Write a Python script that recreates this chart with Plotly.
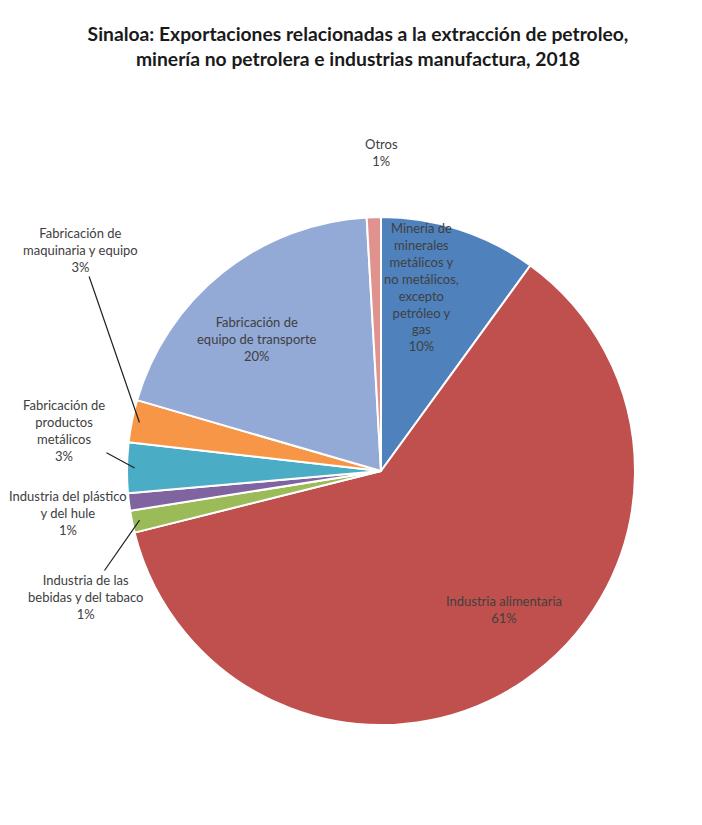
import math
import plotly.graph_objects as go

# ---------------- data ----------------
categories = [
    "Minería de minerales metálicos y no metálicos, excepto petróleo y gas",
    "Industria alimentaria",
    "Industria de las bebidas y del tabaco",
    "Industria del plástico y del hule",
    "Fabricación de productos metálicos",
    "Fabricación de maquinaria y equipo",
    "Fabricación de equipo de transporte",
    "Otros",
]
values = [10.0, 61.1, 1.4, 1.1, 3.2, 2.7, 19.6, 0.9]
colors = ["#4F81BD", "#C0504D", "#9BBB59", "#8064A2", "#4BACC6",
          "#F79646", "#93A9D6", "#E0938E"]

# wrapped display labels
display_labels = [
    "Minería de<br>minerales<br>metálicos y<br>no metálicos,<br>excepto<br>petróleo y<br>gas",
    "Industria alimentaria",
    "Industria de las<br>bebidas y del tabaco",
    "Industria del plástico<br>y del hule",
    "Fabricación de<br>productos<br>metálicos",
    "Fabricación de<br>maquinaria y equipo",
    "Fabricación de<br>equipo de transporte",
    "Otros",
]

title_text = ("Sinaloa: Exportaciones relacionadas a la extracción de petroleo,<br>"
              "minería no petrolera e industrias manufactura, 2018")

# ---------------- layout config ----------------
OFF = 8                       # page body margin
W, H = 702 - OFF, 825 - OFF   # figure size
CX, CY, R = 381, 471, 254     # pie centre / radius in page pixels
FONT = "Lato"
TXT = "#404040"

# label centres (page pixels) and whether a leader line is drawn
label_cfg = {
    0: (421, 287, None),
    1: (504, 609, None),
    2: (86, 597, True),
    3: (68, 513, False),
    4: (64, 430, True),
    5: (80, 250, True),
    6: (257, 339, None),
    7: (381, 152, False),
}


def fx(px):
    return (px - OFF) / W


def fy(py):
    return 1 - (py - OFF) / H


total = sum(values)
pct = [round(100 * v / total) for v in values]

fig = go.Figure()
fig.add_trace(go.Pie(
    labels=categories,
    values=values,
    sort=False,
    direction="clockwise",
    rotation=0,
    marker=dict(colors=colors, line=dict(color="white", width=2)),
    textinfo="none",
    hovertemplate="%{label}<br>%{percent:.0%}<extra></extra>",
    showlegend=False,
    domain=dict(x=[fx(CX - R), fx(CX + R)],
                y=[fy(CY + R), fy(CY - R)]),
))

cum = 0.0
annotations = []
for i, v in enumerate(values):
    mid = (cum + v / 2) / total
    cum += v
    lx, ly, arrow = label_cfg[i]
    txt = f"{display_labels[i]}<br>{pct[i]}%"
    font = dict(family=FONT, size=13, color=TXT)
    if arrow:
        th = 2 * math.pi * mid
        px = CX + 0.97 * R * math.sin(th)
        py = CY - 0.97 * R * math.cos(th)
        annotations.append(dict(
            x=fx(px), y=fy(py), xref="paper", yref="paper",
            ax=lx - px, ay=ly - py, axref="pixel", ayref="pixel",
            text=txt, showarrow=True, arrowhead=0, arrowwidth=1.2,
            arrowcolor="#202020", standoff=0, font=font, align="center"))
    else:
        annotations.append(dict(
            x=fx(lx), y=fy(ly), xref="paper", yref="paper",
            xanchor="center", yanchor="middle",
            text=txt, showarrow=False, font=font, align="center"))

fig.update_layout(
    width=W, height=H,
    margin=dict(l=0, r=0, t=0, b=0),
    paper_bgcolor="white",
    title=dict(text=f"<b>{title_text}</b>", x=fx(358), xanchor="center",
               y=fy(41), yanchor="middle",
               font=dict(family=FONT, size=19.3, color="#1a1a1a")),
    annotations=annotations,
)

fig.write_html("out.html")
